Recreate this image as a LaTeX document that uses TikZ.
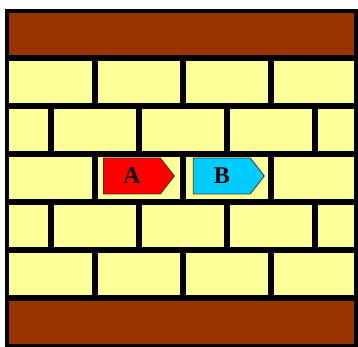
\documentclass[tikz,border=0pt]{standalone}
\usepackage{fontspec}
\setmainfont{Liberation Serif}
\usepackage{tikz}
\usetikzlibrary{positioning, shapes.symbols}
\definecolor{brickyellow}{HTML}{FFFF99}
\definecolor{wallbrown}{HTML}{993300}
\definecolor{tagred}{HTML}{FF0000}
\definecolor{tagcyan}{HTML}{00CCFF}

\begin{document}
\begin{tikzpicture}[
    x=1pt, y=-1pt,
    mortar/.style={draw=black, line width=6pt},
    tag/.style={signal, signal to=east, signal pointer angle=104,
                draw=black!80, line width=0.8pt, minimum width=71pt,
                minimum height=36pt, inner sep=0pt,
                font=\fontsize{24}{24}\selectfont\bfseries},
]
\useasboundingbox (0, 0) rectangle (358, 347);

% wall
\fill[brickyellow] (7, 58) rectangle (356, 298);
\fill[wallbrown] (7, 11) rectangle (356, 58);
\fill[wallbrown] (7, 298) rectangle (356, 346);

\foreach \y in {58, 106, 154, 202, 250, 298} {
    \draw[mortar] (7, \y) -- (356, \y);
}
\foreach \y in {58, 154, 250} {
    \foreach \x in {95, 183, 271}
        \draw[mortar] (\x, \y) -- (\x, \y+48);
}
\foreach \y in {106, 202} {
    \foreach \x in {51, 139, 227, 315}
        \draw[mortar] (\x, \y) -- (\x, \y+48);
}
\draw[line width=4pt] (7, 11) rectangle (356, 346);

% tags
\node[tag, fill=tagred, anchor=west] (A) at (103, 176) {A};
\node[tag, fill=tagcyan, right=18pt of A] (B) {B};

\end{tikzpicture}
\end{document}
